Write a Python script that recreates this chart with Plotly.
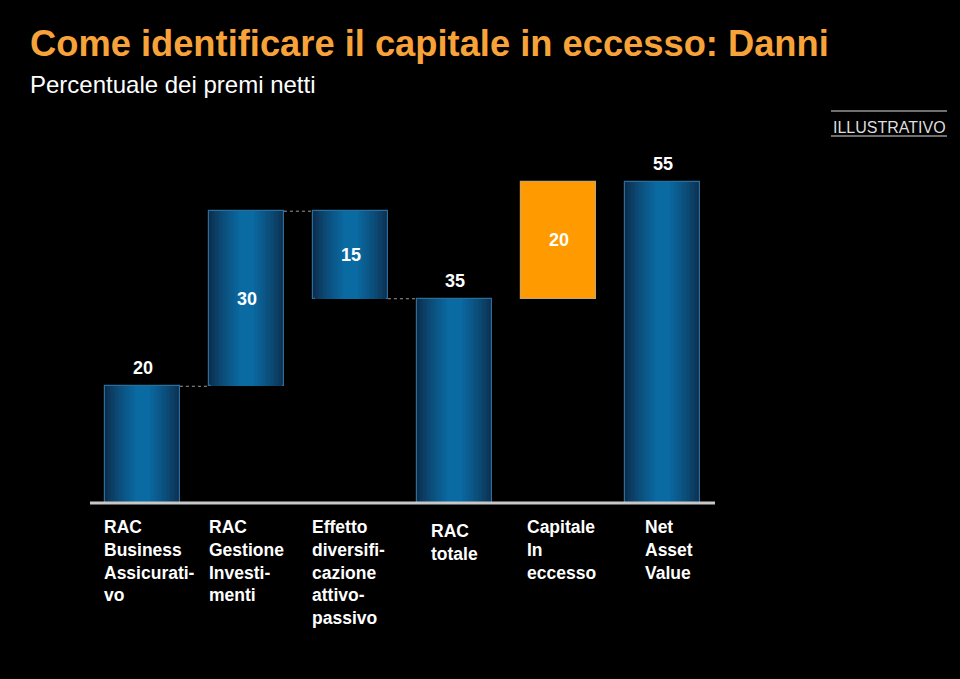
import plotly.graph_objects as go

# ---------------- data ----------------
categories = ["RAC Business Assicurativo", "RAC Gestione Investimenti",
              "Effetto diversificazione attivo-passivo", "RAC totale",
              "Capitale In eccesso", "Net Asset Value"]
tick_labels = ["RAC<br>Business<br>Assicurati-<br>vo",
               "RAC<br>Gestione<br>Investi-<br>menti",
               "Effetto<br>diversifi-<br>cazione<br>attivo-<br>passivo",
               "RAC<br>totale",
               "Capitale<br>In<br>eccesso",
               "Net<br>Asset<br>Value"]
values = [20, 30, -15, 35, 20, 55]
measures = ["relative", "relative", "relative", "total", "relative", "total"]
value_labels = ["20", "30", "15", "35", "20", "55"]
label_inside = [False, True, True, False, True, False]
highlight = [False, False, False, False, True, False]
connectors = [(0, 1), (1, 2), (2, 3)]

# ---------------- compute waterfall geometry ----------------
bases, heights, tops = [], [], []
running = 0
for v, m in zip(values, measures):
    if m == "total":
        b, h = 0, v
        running = v
    else:
        if v >= 0:
            b, h = running, v
        else:
            b, h = running + v, -v
        running += v
    bases.append(b)
    heights.append(h)
    tops.append(b + h)
levels = []
running = 0
for v, m in zip(values, measures):
    running = v if m == "total" else running + v
    levels.append(running)

x = list(range(len(categories)))
BW = 0.72

fig = go.Figure()

# gradient blue bars via stacked overlay layers
edge = (14, 46, 76)
center = (10, 106, 162)
N = 20
blue_idx = [i for i in x if not highlight[i]]
for k in range(N):
    t = (k / (N - 1)) ** 0.8
    col = tuple(int(edge[j] + (center[j] - edge[j]) * t) for j in range(3))
    w = BW * (1 - 0.85 * k / N)
    fig.add_trace(go.Bar(
        x=[x[i] for i in blue_idx],
        y=[heights[i] for i in blue_idx],
        base=[bases[i] for i in blue_idx],
        width=w,
        marker=dict(color="rgb(%d,%d,%d)" % col,
                    line=dict(width=1.2 if k == 0 else 0, color="#2a6e9c")),
        hoverinfo="skip", showlegend=False))

# highlighted (orange) bar
hi_idx = [i for i in x if highlight[i]]
fig.add_trace(go.Bar(
    x=[x[i] for i in hi_idx],
    y=[heights[i] for i in hi_idx],
    base=[bases[i] for i in hi_idx],
    width=BW,
    marker=dict(color="#FF9A00", line=dict(width=1.2, color="#c9a46a")),
    hoverinfo="skip", showlegend=False))

# connectors
for a, b in connectors:
    fig.add_trace(go.Scatter(
        x=[x[a] + BW / 2, x[b] - BW / 2], y=[levels[a], levels[a]],
        mode="lines", line=dict(color="#9a9a9a", width=1, dash="dot"),
        hoverinfo="skip", showlegend=False))

FONT = "Liberation Sans, Arial"

# value labels
for i in x:
    if label_inside[i]:
        fig.add_annotation(x=x[i], y=bases[i] + heights[i] / 2, text="<b>%s</b>" % value_labels[i],
                           showarrow=False, font=dict(size=18, color="white", family=FONT))
    else:
        fig.add_annotation(x=x[i], y=tops[i], text="<b>%s</b>" % value_labels[i], yanchor="bottom",
                           yshift=6, showarrow=False,
                           font=dict(size=18, color="white", family=FONT))

# category labels
xshifts = [-3, -2, -3, 12, 4, 18]
yoffs = [0, 0, 0, 4, 0, 0]
for i in x:
    fig.add_annotation(x=x[i] - BW / 2, xanchor="left", xshift=xshifts[i],
                       y=0, yanchor="top", yshift=-12 - yoffs[i],
                       text="<b>%s</b>" % tick_labels[i], align="left", showarrow=False,
                       font=dict(size=17.5, color="white", family=FONT))

# baseline
fig.add_shape(type="line", xref="x", yref="y", x0=-0.505, x1=5.505, y0=0, y1=0,
              line=dict(color="#c8c8c8", width=3))

# title / subtitle
fig.add_annotation(xref="paper", yref="paper", x=28 / 960, y=1 - 43 / 679, xanchor="left", yanchor="middle",
                   text="<b>Come identificare il capitale in eccesso: Danni</b>", showarrow=False,
                   font=dict(size=36.3, color="#F7A33A", family=FONT))
fig.add_annotation(xref="paper", yref="paper", x=28 / 960, y=1 - 84 / 679, xanchor="left", yanchor="middle",
                   text="Percentuale dei premi netti", showarrow=False,
                   font=dict(size=24, color="white", family=FONT))

# ILLUSTRATIVO tag
fig.add_annotation(xref="paper", yref="paper", x=889 / 960, y=1 - 127 / 679, xanchor="center", yanchor="middle",
                   text="ILLUSTRATIVO", showarrow=False,
                   font=dict(size=16, color="#dddddd", family=FONT))
for yy in (111, 136):
    fig.add_shape(type="line", xref="paper", yref="paper", x0=831 / 960, x1=947 / 960,
                  y0=1 - yy / 679, y1=1 - yy / 679, line=dict(color="#dddddd", width=1.2))

fig.update_layout(
    width=960, height=679, margin=dict(l=0, r=0, t=0, b=0),
    paper_bgcolor="black", plot_bgcolor="black",
    barmode="overlay", bargap=0, showlegend=False,
    xaxis=dict(range=[-142.5 / 104, (960 - 142.5) / 104], visible=False, fixedrange=True),
    yaxis=dict(range=[-(679 - 503) / 5.836, 503 / 5.836], visible=False, fixedrange=True),
)

fig.write_html("out.html", config={"displayModeBar": False},
               post_script="document.body.style.margin='0';document.body.style.padding='0';"
                           "document.body.style.background='black';")
